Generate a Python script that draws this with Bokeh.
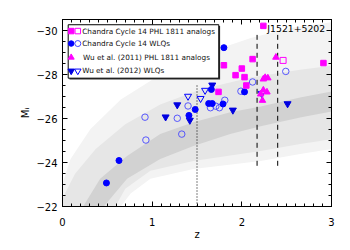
from bokeh.plotting import figure
from bokeh.models import Range1d, LinearAxis, FixedTicker, Label
from bokeh.embed import file_html
from bokeh.resources import INLINE

# ---------------- data ----------------
# Chandra Cycle 14 PHL 1811 analogs (filled / open squares)
c14_phl_z = [2.24, 1.80, 2.12, 2.00, 1.93, 2.03, 2.05, 1.74, 2.91]
c14_phl_m = [-30.21, -28.42, -28.70, -28.27, -27.97, -27.88, -27.50, -27.21, -28.52]
c14_phl_open_z = [2.46]
c14_phl_open_m = [-28.64]

# Chandra Cycle 14 WLQs (filled / open circles)
c14_wlq_z = [1.80, 2.03, 1.66, 1.48, 1.41, 1.63, 1.67, 1.79, 0.63, 0.49]
c14_wlq_m = [-29.22, -27.21, -27.32, -26.41, -26.14, -26.68, -26.68, -26.66, -24.09, -23.07]
c14_wlq_open_z = [2.12, 1.99, 2.49, 1.81, 1.65, 1.71, 1.75, 1.40, 1.28, 1.33, 0.92, 0.93]
c14_wlq_open_m = [-27.66, -27.24, -28.14, -26.83, -26.49, -26.56, -26.49, -26.57, -26.01, -25.29, -26.06, -25.02]

# Wu et al. (2011) PHL 1811 analogs (magenta triangles)
wu11_z = [2.38, 2.24, 2.26, 2.29, 2.24, 2.28, 2.21, 2.23]
wu11_m = [-28.78, -27.79, -27.86, -27.84, -27.29, -27.20, -27.11, -26.82]

# Wu et al. (2012) WLQs (filled / open inverted triangles)
wu12_z = [1.67, 1.28, 1.15, 1.42, 1.90, 2.51]
wu12_m = [-27.52, -26.62, -26.07, -25.92, -26.38, -26.67]
wu12_open_z = [1.40, 1.54, 1.59, 2.22]
wu12_open_m = [-27.01, -26.91, -27.28, -27.14]

# SDSS quasar cloud, drawn as density contours (outer, middle, dense band)
cloud_outer_z = [0.00, 0.09, 0.31, 0.65, 1.09, 1.54, 2.10, 2.54, 3.00,
                 3.00, 2.65, 2.21, 1.46, 0.98, 0.76, 0.65, 0.00]
cloud_outer_m = [-23.04, -24.16, -25.51, -26.86, -27.99, -28.89, -29.66, -30.11, -30.38,
                 -24.61, -24.39, -24.07, -23.71, -23.26, -22.59, -22.00, -22.00]
cloud_mid_z = [0.00, 0.14, 0.37, 0.70, 1.09, 1.54, 2.10, 2.65, 3.00,
               3.00, 2.65, 2.21, 1.46, 0.98, 0.70, 0.59, 0.00]
cloud_mid_m = [-22.36, -23.49, -24.61, -25.74, -26.64, -27.32, -27.86, -28.22, -28.40,
               -25.06, -24.84, -24.52, -24.07, -23.62, -22.81, -22.00, -22.00]
cloud_band_z = [0.23, 0.42, 0.72, 1.09, 1.46, 1.87, 2.21, 2.65, 3.00,
                3.00, 2.65, 2.21, 1.87, 1.46, 1.09, 0.72, 0.46]
cloud_band_m = [-22.00, -23.26, -24.30, -25.29, -25.83, -26.28, -26.55, -26.95, -27.23,
                -26.32, -26.05, -25.65, -25.29, -24.75, -24.16, -23.26, -22.00]

# reference lines
dotted_z = [1.50]
dotted_m0, dotted_m1 = [-22.0], [-27.55]
dashed_z = [2.17, 2.40]
dashed_m0, dashed_m1 = [-23.85, -23.85], [-29.8, -29.8]

x_ticks = [0, 1, 2, 3]
y_ticks = [-30, -28, -26, -24, -22]
y_tick_labels = {-30: "\u221230", -28: "\u221228", -26: "\u221226", -24: "\u221224", -22: "\u221222"}

legend_labels = ["Chandra Cycle 14 PHL 1811 analogs", "Chandra Cycle 14 WLQs",
                 "Wu et al. (2011) PHL 1811 analogs", "Wu et al. (2012) WLQs"]

# ---------------- figure ----------------
X0, X1 = 0.0, 3.0
Y_BOT, Y_TOP = -22.0, -30.5
BORDER_L, BORDER_R, BORDER_T, BORDER_B = 62, 11, 19, 34
FW, FH = 269, 189

p = figure(width=BORDER_L + FW + BORDER_R, height=BORDER_T + FH + BORDER_B,
           output_backend="svg", toolbar_location=None,
           x_range=Range1d(X0, X1), y_range=Range1d(Y_BOT, Y_TOP),
           min_border_left=BORDER_L, min_border_top=BORDER_T,
           min_border_right=BORDER_R, min_border_bottom=BORDER_B)
p.background_fill_color = "white"
p.border_fill_color = "white"
p.outline_line_color = "black"
p.grid.visible = False

FONT = "DejaVu Sans"

def style_axis(ax, labels=True):
    ax.axis_line_color = "black"
    ax.major_tick_line_color = "black"
    ax.minor_tick_line_color = "black"
    ax.major_tick_in = 5
    ax.major_tick_out = 0
    ax.minor_tick_in = 3
    ax.minor_tick_out = 0
    ax.major_label_text_font = FONT
    ax.axis_label_text_font = FONT
    ax.axis_label_text_font_style = "normal"
    ax.axis_label_text_font_size = "10px"
    ax.axis_label_text_color = "black"
    if labels:
        ax.major_label_text_font_size = "10px"
        ax.major_label_text_color = "black"
    else:
        ax.major_label_text_font_size = "1px"
        ax.major_label_text_color = None
        ax.major_label_standoff = 0

xticker = FixedTicker(ticks=x_ticks, minor_ticks=[i / 10 for i in range(0, 31)])
yticker = FixedTicker(ticks=y_ticks, minor_ticks=[-30.5 + i * 0.5 for i in range(0, 18)])

p.xaxis.ticker = xticker
p.yaxis.ticker = yticker
style_axis(p.xaxis[0])
style_axis(p.yaxis[0])
p.xaxis.axis_label = "z"
p.yaxis.axis_label = "M\u1d62"
p.xaxis.major_label_standoff = 11
p.xaxis.axis_label_standoff = 0
p.yaxis.major_label_standoff = 5
p.yaxis.axis_label_standoff = 2
p.yaxis.major_label_overrides = y_tick_labels

top_ax = LinearAxis(ticker=xticker)
style_axis(top_ax, labels=False)
p.add_layout(top_ax, "above")
right_ax = LinearAxis(ticker=yticker)
style_axis(right_ax, labels=False)
p.add_layout(right_ax, "right")

# cloud
p.patch(cloud_outer_z, cloud_outer_m, fill_color="#f3f3f3", line_color=None)
p.patch(cloud_mid_z, cloud_mid_m, fill_color="#e6e6e6", line_color=None)
p.patch(cloud_band_z, cloud_band_m, fill_color="#d2d2d2", line_color=None)

# lines
p.segment(dotted_z, dotted_m0, dotted_z, dotted_m1, line_color="black", line_width=1, line_dash="1 2")
p.segment(dashed_z, dashed_m0, dashed_z, dashed_m1, line_color="black", line_width=1, line_dash="5 4")

MAG = "#ff00ff"
BLUE = "#0000ff"

# data points
p.scatter(c14_wlq_open_z, c14_wlq_open_m, marker="circle", size=6.5, fill_color=None,
          line_color="#4646ff", line_width=0.9)
p.scatter(wu12_open_z, wu12_open_m, marker="inverted_triangle", size=7, fill_color=None,
          line_color=BLUE, line_width=1)
p.scatter(wu12_z, wu12_m, marker="inverted_triangle", size=7, fill_color="#0000e0", line_color="#0000e0")
p.scatter(c14_wlq_z, c14_wlq_m, marker="circle", size=6, fill_color=BLUE, line_color=BLUE)
p.scatter(wu11_z, wu11_m, marker="triangle", size=6.5, fill_color=MAG, line_color=MAG)
p.scatter(c14_phl_z, c14_phl_m, marker="square", size=5.5, fill_color=MAG, line_color=MAG)
p.scatter(c14_phl_open_z, c14_phl_open_m, marker="square", size=6, fill_color=None,
          line_color=MAG, line_width=1)

p.add_layout(Label(x=c14_phl_z[0], y=c14_phl_m[0], x_offset=4, y_offset=-2.5, text="J1521+5202",
                   text_font=FONT, text_font_size="9.3px", text_color="black", text_baseline="middle"))

# legend (frame-relative pixel layout converted to data coordinates)
def fz(dx):
    return X0 + dx / FW * (X1 - X0)

def fm(dy):
    return Y_TOP + dy / FH * (Y_BOT - Y_TOP)

BL, BT, BR, BB = 5.7, 5.3, 156.3, 59.3
p.quad(left=[fz(BL + 1.3)], right=[fz(BR + 1.3)], top=[fm(BT + 1.3)], bottom=[fm(BB + 1.3)],
       fill_color="#303030", line_color=None)
p.quad(left=[fz(BL)], right=[fz(BR)], top=[fm(BT)], bottom=[fm(BB)],
       fill_color="white", line_color="black", line_width=1)

rows = [11.7, 24.3, 38.3, 52.0]
mx1, mx2, tx = 8.7, 15.3, 19.7
p.scatter([fz(mx1)], [fm(rows[0])], marker="square", size=5.5, fill_color=MAG, line_color=MAG)
p.scatter([fz(mx2)], [fm(rows[0])], marker="square", size=5.5, fill_color=None, line_color=MAG)
p.scatter([fz(mx1)], [fm(rows[1])], marker="circle", size=5.5, fill_color=BLUE, line_color=BLUE)
p.scatter([fz(mx2)], [fm(rows[1])], marker="circle", size=6, fill_color=None, line_color="#4646ff")
p.scatter([fz(mx1)], [fm(rows[2])], marker="triangle", size=6, fill_color=MAG, line_color=MAG)
p.scatter([fz(mx1)], [fm(rows[3])], marker="inverted_triangle", size=6.5, fill_color="#0000e0", line_color="#0000e0")
p.scatter([fz(mx2)], [fm(rows[3])], marker="inverted_triangle", size=6.5, fill_color=None, line_color=BLUE)
for i, lab in enumerate(legend_labels):
    p.add_layout(Label(x=fz(tx + (0.8 if i == 2 else 0)), y=fm(rows[i]), text=lab, text_font=FONT,
                       text_font_size="7.3px", text_color="#111111", text_baseline="middle"))

open("out.html", "w").write(file_html(p, INLINE))
